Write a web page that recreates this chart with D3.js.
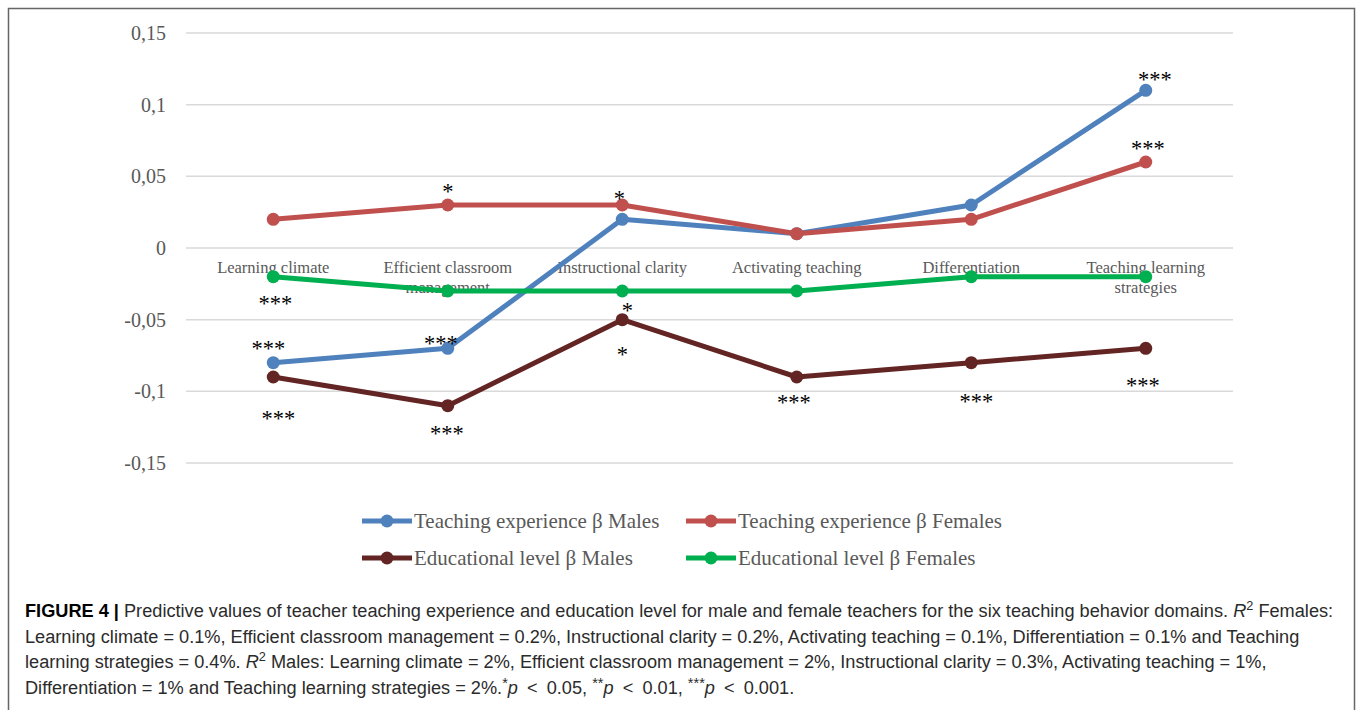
<!DOCTYPE html>
<html>
<head>
<meta charset="utf-8">
<script src="https://cdn.jsdelivr.net/npm/d3@7"></script>
<style>
  html, body { margin: 0; padding: 0; background: #fff; }
  svg { display: block; }
</style>
</head>
<body>
<svg id="chart" width="1358" height="710"></svg>
<script>
// data
const categories = ["Learning climate", "Efficient classroom management", "Instructional clarity",
                    "Activating teaching", "Differentiation", "Teaching learning strategies"];
const categoryLines = [["Learning climate"], ["Efficient classroom", "management"], ["Instructional clarity"],
                       ["Activating teaching"], ["Differentiation"], ["Teaching learning", "strategies"]];
const seriesNames = ["Teaching experience \u03b2 Males", "Teaching experience \u03b2 Females",
                     "Educational level \u03b2 Males", "Educational level \u03b2 Females"];
const teachExpMales   = [-0.08, -0.07, 0.02, 0.01, 0.03, 0.11];
const teachExpFemales = [0.02, 0.03, 0.03, 0.01, 0.02, 0.06];
const eduMales        = [-0.09, -0.11, -0.05, -0.09, -0.08, -0.07];
const eduFemales      = [-0.02, -0.03, -0.03, -0.03, -0.02, -0.02];
const yTicks = [-0.15, -0.1, -0.05, 0, 0.05, 0.1, 0.15];

// significance marks: series index, category index, text
const stars = [
  {s: 3, c: 0, t: "***"}, {s: 0, c: 0, t: "***"}, {s: 2, c: 0, t: "***"},
  {s: 1, c: 1, t: "*"},   {s: 0, c: 1, t: "***"}, {s: 2, c: 1, t: "***"},
  {s: 1, c: 2, t: "*"},   {s: 2, c: 2, t: "*"},   {s: 2, c: 2, t: "*"},
  {s: 2, c: 3, t: "***"}, {s: 2, c: 4, t: "***"},
  {s: 0, c: 5, t: "***"}, {s: 1, c: 5, t: "***"}, {s: 2, c: 5, t: "***"}
];
// where each mark sits relative to its point (px)
const starShift = [
  [2, 21], [-5, -20], [5, 36],
  [0, -19], [-7, -10], [-1, 22],
  [-3, -12], [5, -15], [0, 29],
  [-3, 20], [5, 33],
  [9, -16], [2, -19], [-3, 32]
];

const series = [teachExpMales, teachExpFemales, eduMales, eduFemales];
const colors = ["#4f81bd", "#c0504d", "#632523", "#00b050"];

const svg = d3.select("#chart");

// outer frame
svg.append("rect")
  .attr("x", 8.5).attr("y", 8.5)
  .attr("width", 1346).attr("height", 720)
  .attr("fill", "none").attr("stroke", "#666").attr("stroke-width", 1.5);

const x = d3.scaleBand().domain(categories).range([186, 1233]);
const cx = c => x(c) + x.bandwidth() / 2;
const y = d3.scaleLinear().domain([-0.15, 0.15]).range([463, 33]);

// gridlines
svg.append("g").selectAll("line")
  .data(yTicks).enter().append("line")
  .attr("x1", 186).attr("x2", 1233)
  .attr("y1", d => y(d)).attr("y2", d => y(d))
  .attr("stroke", "#d9d9d9").attr("stroke-width", 1.5);

// y axis labels with comma decimal
const loc = d3.formatLocale({decimal: ",", thousands: ".", grouping: [3], currency: ["", ""], minus: "-"});
const fmt = loc.format("~g");
const yAxis = svg.append("g")
  .attr("transform", "translate(170,0)")
  .call(d3.axisLeft(y).tickValues(yTicks).tickFormat(fmt).tickSize(0).tickPadding(4));
yAxis.select(".domain").remove();
yAxis.selectAll("text")
  .attr("font-family", "'Liberation Serif', 'Times New Roman', serif")
  .attr("font-size", 20)
  .attr("fill", "#595959");

// category labels (under the lines)
const catG = svg.append("g");
categoryLines.forEach((lines, i) => {
  const t = catG.append("text")
    .attr("x", cx(categories[i])).attr("y", 273)
    .attr("text-anchor", "middle")
    .attr("font-family", "'Liberation Serif', 'Times New Roman', serif")
    .attr("font-size", 16.5)
    .attr("fill", "#595959");
  lines.forEach((ln, j) => {
    t.append("tspan").attr("x", cx(categories[i])).attr("dy", j === 0 ? 0 : 19.5).text(ln);
  });
});

// lines and markers
const line = d3.line().x((d, i) => cx(categories[i])).y(d => y(d));
series.forEach((vals, k) => {
  const g = svg.append("g");
  g.append("path")
    .datum(vals)
    .attr("d", line)
    .attr("fill", "none")
    .attr("stroke", colors[k])
    .attr("stroke-width", 5)
    .attr("stroke-linejoin", "round");
  g.selectAll("circle")
    .data(vals).enter().append("circle")
    .attr("cx", (d, i) => cx(categories[i]))
    .attr("cy", d => y(d))
    .attr("r", 6.5)
    .attr("fill", colors[k]);
});

// significance stars
svg.append("g").selectAll("text")
  .data(stars).enter().append("text")
  .attr("x", (d, i) => cx(categories[d.c]) + starShift[i][0])
  .attr("y", (d, i) => y(series[d.s][d.c]) + starShift[i][1] + 13)
  .attr("text-anchor", "middle")
  .attr("font-family", "'Liberation Serif', 'Times New Roman', serif")
  .attr("font-size", 22.5)
  .attr("fill", "#000")
  .text(d => d.t);

// legend
const legPos = [[362, 521], [686, 521], [362, 558], [686, 558]];
seriesNames.forEach((name, k) => {
  const [lx, ly] = legPos[k];
  const g = svg.append("g");
  g.append("line").attr("x1", lx).attr("x2", lx + 50).attr("y1", ly).attr("y2", ly)
    .attr("stroke", colors[k]).attr("stroke-width", 5);
  g.append("circle").attr("cx", lx + 25).attr("cy", ly).attr("r", 6.5).attr("fill", colors[k]);
  g.append("text").attr("x", lx + 52).attr("y", ly + 7)
    .attr("font-family", "'Liberation Serif', 'Times New Roman', serif")
    .attr("font-size", 21)
    .attr("fill", "#595959")
    .text(name);
});

// caption
const capFont = "'Liberation Sans', Arial, sans-serif";
const capColor = "#2b2b2b";
const capBase = [617, 643, 668, 694];
const cap = svg.append("g").attr("font-family", capFont).attr("font-size", 16).attr("fill", capColor);

function addR2(t) {
  t.append("tspan").attr("font-style", "italic").text("R");
  t.append("tspan").attr("font-size", "0.7em").attr("dy", -7).text("2");
  t.append("tspan").attr("dy", 7).text("\u00a0");
}

const c1 = cap.append("text").attr("x", 25).attr("y", capBase[0]);
c1.append("tspan").attr("font-weight", "bold").attr("fill", "#000").text("FIGURE 4 |");
c1.append("tspan").text(" Predictive values of teacher teaching experience and education level for male and female teachers for the six teaching behavior domains. ");
addR2(c1);
c1.append("tspan").text("Females:");

const c2 = cap.append("text").attr("x", 25).attr("y", capBase[1])
  .text("Learning climate = 0.1%, Efficient classroom management = 0.2%, Instructional clarity = 0.2%, Activating teaching = 0.1%, Differentiation = 0.1% and Teaching");

const c3 = cap.append("text").attr("x", 25).attr("y", capBase[2]);
c3.append("tspan").text("learning strategies = 0.4%. ");
addR2(c3);
c3.append("tspan").text("Males: Learning climate = 2%, Efficient classroom management = 2%, Instructional clarity = 0.3%, Activating teaching = 1%,");

const c4 = cap.append("text").attr("x", 25).attr("y", capBase[3]);
c4.append("tspan").text("Differentiation = 1% and Teaching learning strategies = 2%.");
function pMark(t, s, rest) {
  t.append("tspan").attr("font-size", "0.8em").attr("dy", -6).text(s);
  t.append("tspan").attr("dy", 6).attr("font-style", "italic").text("p");
  t.append("tspan").text(rest);
}
pMark(c4, "*", "\u2002<\u20020.05, ");
pMark(c4, "**", "\u2002<\u20020.01, ");
pMark(c4, "***", "\u2002<\u20020.001.");

// fit caption font so line 2 spans the same width as the reference
const w2 = c2.node().getComputedTextLength();
const k = 1275 / w2;
cap.attr("font-size", 16 * k);
</script>
</body>
</html>
